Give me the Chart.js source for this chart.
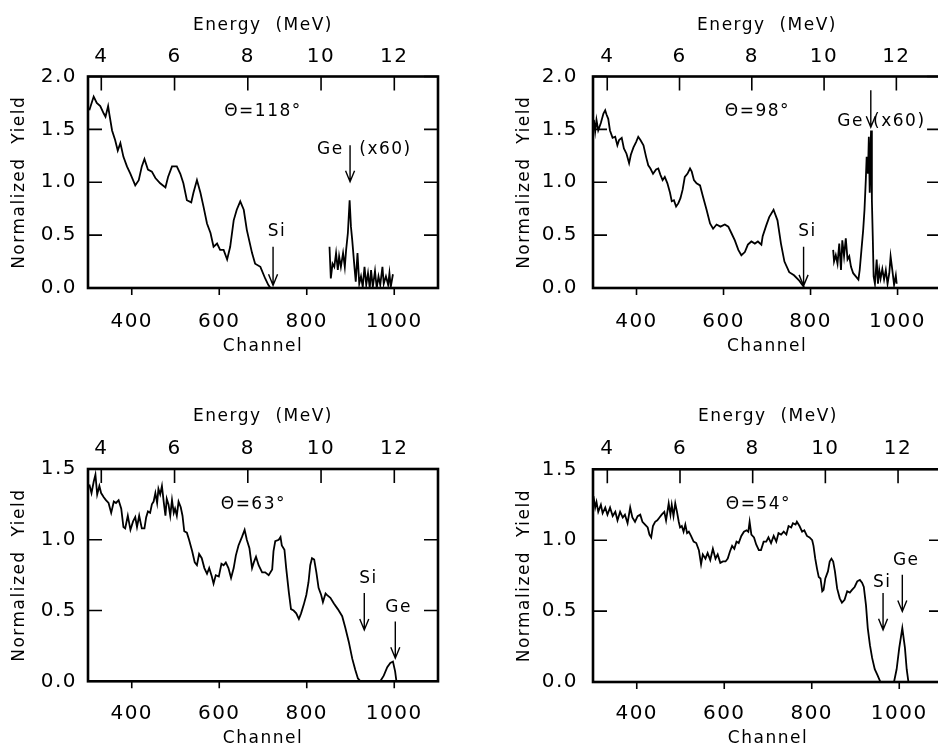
<!DOCTYPE html>
<html>
<head>
<meta charset="utf-8">
<script src="https://cdn.jsdelivr.net/npm/chart.js@4.4.0/dist/chart.umd.min.js"></script>
<style>
html, body { margin: 0; padding: 0; background: #fff; width: 938px; height: 747px; overflow: hidden; }
canvas { position: absolute; }
</style>
</head>
<body>
<canvas id="c118" width="469" height="370" style="left:0;top:0"></canvas>
<canvas id="c98" width="480" height="370" style="left:469px;top:0"></canvas>
<canvas id="c63" width="469" height="380" style="left:0;top:380px"></canvas>
<canvas id="c54" width="480" height="380" style="left:469px;top:380px"></canvas>
<script>
// --- Tick labels ---
const channelTicks = [400, 600, 800, 1000];
const energyTicks = [4, 6, 8, 10, 12];
const yieldTicksTop = [0, 0.5, 1.0, 1.5, 2.0];
const yieldTicksBottom = [0, 0.5, 1.0, 1.5];

// --- Theta = 118 deg ---
const ch118 = [303,313,320,328,336,340,346,349,355,362,368,374,381,389,397,408,416,423,429,437,446,454,465,477,483,492,503,511,518,526,536,541,549,557,564,572,580,587,595,602,610,618,625,633,640,648,656,663,675,682,694,705,712,717];
const y118  = [1.68,1.81,1.75,1.72,1.65,1.62,1.72,1.64,1.49,1.40,1.30,1.37,1.24,1.15,1.08,0.97,1.02,1.15,1.22,1.12,1.10,1.04,0.99,0.95,1.05,1.15,1.15,1.08,0.99,0.83,0.81,0.90,1.02,0.90,0.77,0.61,0.52,0.39,0.42,0.36,0.36,0.27,0.39,0.64,0.74,0.82,0.74,0.55,0.33,0.23,0.20,0.09,0.03,0.0];
const geCh118 = [852,855,859,863,867,871,874,878,883,887,890,894,898,901,904,909,912,916,920,924,928,932,936,940,944,947,951,956,960,964,968,973,976,981,986,989,992,997];
const geY118  = [0.39,0.09,0.23,0.20,0.33,0.17,0.30,0.20,0.33,0.20,0.36,0.52,0.83,0.58,0.45,0.20,0.06,0.33,0.04,0.11,0.01,0.20,0.03,0.14,0.0,0.17,0.01,0.16,0.0,0.11,0.03,0.20,0.04,0.11,0.03,0.14,0.01,0.13];

// --- Theta = 98 deg ---
const ch98 = [302,305,308,312,318,324,328,331,335,339,345,351,356,360,366,371,377,383,387,393,399,404,409,416,422,427,432,438,445,450,455,460,465,471,477,481,486,491,496,501,506,511,517,523,527,532,538,546,553,561,569,576,584,593,603,611,618,626,634,641,649,656,664,672,679,687,690,698,705,715,724,732,740,751,762,774,783,786];
const y98  = [1.59,1.48,1.59,1.49,1.56,1.65,1.68,1.64,1.60,1.49,1.42,1.43,1.35,1.40,1.42,1.32,1.27,1.18,1.26,1.33,1.38,1.43,1.40,1.35,1.24,1.16,1.13,1.08,1.12,1.13,1.07,1.02,1.05,0.99,0.90,0.82,0.83,0.77,0.80,0.85,0.93,1.05,1.08,1.13,1.10,1.02,0.99,0.97,0.86,0.74,0.61,0.56,0.60,0.58,0.60,0.58,0.52,0.45,0.36,0.31,0.34,0.41,0.44,0.42,0.44,0.41,0.49,0.59,0.67,0.74,0.64,0.42,0.25,0.15,0.12,0.07,0.02,0.0];
const geCh98 = [852,854,858,862,866,870,873,877,881,885,889,893,898,904,910,913,917,921,924,927,929,932,934,936,939,941,943,945,948,952,955,958,961,965,969,973,977,981,984,988,992,996,998];
const geY98  = [0.36,0.25,0.31,0.23,0.42,0.17,0.45,0.30,0.47,0.27,0.30,0.20,0.14,0.11,0.08,0.17,0.36,0.55,0.74,1.02,1.24,1.08,1.43,0.90,1.49,0.83,0.49,0.11,0.04,0.27,0.04,0.17,0.09,0.18,0.08,0.17,0.04,0.14,0.30,0.17,0.03,0.12,0.04];

// --- Theta = 63 deg ---
const ch63 = [303,308,313,317,321,326,330,336,341,347,353,359,364,370,376,381,385,391,397,403,408,412,417,423,429,433,437,442,446,450,454,458,461,465,469,473,477,480,484,488,492,496,499,503,507,512,516,520,526,531,538,544,549,554,560,566,572,577,583,587,592,599,605,610,615,621,627,633,638,644,652,658,663,669,675,679,684,690,698,705,713,721,724,728,736,740,743,749,753,759,764,770,776,782,787,793,799,804,808,812,817,822,827,833,837,843,846,854,862,871,881,888,896,904,911,917,923,968,976,984,991,997,1002,1005];
const y63  = [1.39,1.33,1.41,1.46,1.32,1.38,1.33,1.30,1.28,1.26,1.19,1.27,1.26,1.28,1.22,1.09,1.08,1.17,1.07,1.13,1.16,1.09,1.17,1.08,1.08,1.16,1.20,1.19,1.25,1.27,1.33,1.26,1.36,1.32,1.38,1.27,1.17,1.29,1.25,1.17,1.28,1.19,1.22,1.17,1.27,1.23,1.17,1.06,1.05,1.00,0.92,0.84,0.82,0.90,0.87,0.80,0.76,0.80,0.74,0.69,0.75,0.74,0.83,0.82,0.84,0.80,0.73,0.80,0.89,0.96,1.02,1.07,1.00,0.94,0.80,0.84,0.88,0.82,0.77,0.77,0.75,0.79,0.92,0.99,1.00,1.02,0.96,0.93,0.80,0.63,0.51,0.50,0.48,0.44,0.48,0.54,0.61,0.70,0.82,0.87,0.86,0.77,0.66,0.61,0.56,0.62,0.61,0.59,0.55,0.51,0.46,0.38,0.28,0.16,0.08,0.02,0.0,0.0,0.04,0.10,0.13,0.14,0.07,0.0];

// --- Theta = 54 deg ---
const ch54 = [301,305,308,312,318,322,328,333,339,345,351,356,362,368,373,379,385,390,396,402,408,413,419,425,429,433,437,442,447,452,457,463,467,473,477,480,484,488,492,496,499,503,507,511,515,519,524,530,536,542,547,551,557,562,568,574,580,585,591,597,603,608,613,618,623,628,633,639,645,651,655,658,662,668,673,679,684,690,696,701,707,713,719,724,730,736,742,747,753,757,763,766,772,778,783,789,795,801,804,808,812,816,820,824,827,831,837,841,845,849,853,858,864,869,875,881,887,892,898,904,910,915,919,924,928,933,938,944,950,957,988,994,1000,1007,1013,1017,1021];
const y54  = [1.31,1.23,1.27,1.20,1.25,1.19,1.23,1.18,1.23,1.17,1.20,1.14,1.20,1.16,1.18,1.12,1.23,1.16,1.13,1.17,1.18,1.13,1.11,1.09,1.04,1.02,1.10,1.13,1.14,1.16,1.18,1.20,1.14,1.26,1.18,1.25,1.17,1.26,1.20,1.13,1.09,1.10,1.06,1.11,1.05,1.06,1.03,0.99,0.98,0.93,0.83,0.90,0.87,0.91,0.86,0.94,0.87,0.90,0.84,0.85,0.85,0.87,0.92,0.96,0.94,0.99,0.98,1.03,1.06,1.07,1.06,1.13,1.04,1.02,0.97,0.93,0.93,0.99,0.99,1.02,0.98,1.03,0.99,1.05,1.04,1.06,1.04,1.10,1.09,1.12,1.11,1.13,1.10,1.06,1.07,1.03,1.02,1.00,0.96,0.87,0.80,0.74,0.73,0.64,0.65,0.73,0.78,0.85,0.87,0.85,0.78,0.66,0.59,0.56,0.58,0.64,0.63,0.65,0.67,0.71,0.72,0.70,0.67,0.54,0.38,0.26,0.17,0.09,0.05,0.0,0.0,0.09,0.24,0.38,0.24,0.09,0.0];

// --- Helpers ---
function points(xs, ys) {
    return xs.map((x, i) => ({x: x, y: ys[i]}));
}

const textFont = { family: 'DejaVu Sans', size: 17 };
const tickFont = { family: 'DejaVu Sans', size: 20 };

// wider letter spacing like the plotter font of the original
const spacingPlugin = {
    id: 'spacing',
    beforeUpdate(chart) { chart.ctx.letterSpacing = '1.5px'; },
    beforeDraw(chart) { chart.ctx.letterSpacing = '1.5px'; }
};

// thick frame, ticks pointing inward (top, left, right) and outward (bottom)
const framePlugin = {
    id: 'panelFrame',
    afterDraw(chart) {
        const {ctx, chartArea: a, scales} = chart;
        ctx.save();
        ctx.strokeStyle = '#000';
        ctx.lineWidth = 2.6;
        ctx.strokeRect(a.left, a.top, a.right - a.left, a.bottom - a.top);
        ctx.lineWidth = 1.6;
        ctx.beginPath();
        scales.y.ticks.forEach(t => {
            const py = scales.y.getPixelForValue(t.value);
            ctx.moveTo(a.left, py); ctx.lineTo(a.left + 14, py);
            ctx.moveTo(a.right, py); ctx.lineTo(a.right - 14, py);
        });
        scales.xTop.ticks.forEach(t => {
            const px = scales.xTop.getPixelForValue(t.value);
            ctx.moveTo(px, a.top); ctx.lineTo(px, a.top + 14);
        });
        scales.x.ticks.forEach(t => {
            const px = scales.x.getPixelForValue(t.value);
            ctx.moveTo(px, a.bottom); ctx.lineTo(px, a.bottom + 7);
        });
        ctx.stroke();
        ctx.restore();
    }
};

// labels and arrows placed in data coordinates
function notesPlugin(notes) {
    return {
        id: 'notes',
        afterDraw(chart) {
            const {ctx, scales} = chart;
            const sx = scales.x, sy = scales.y;
            ctx.save();
            ctx.fillStyle = '#000';
            ctx.strokeStyle = '#000';
            ctx.font = '17px "DejaVu Sans"';
            ctx.textAlign = 'center';
            ctx.textBaseline = 'middle';
            notes.texts.forEach(n => ctx.fillText(n.text, sx.getPixelForValue(n.x), sy.getPixelForValue(n.y)));
            ctx.lineWidth = 1.4;
            notes.arrows.forEach(n => {
                const px = sx.getPixelForValue(n.x);
                const p1 = sy.getPixelForValue(n.from);
                const p2 = sy.getPixelForValue(n.to);
                ctx.beginPath();
                ctx.moveTo(px, p1); ctx.lineTo(px, p2);
                ctx.moveTo(px - 4.5, p2 - 11); ctx.lineTo(px, p2); ctx.lineTo(px + 4.5, p2 - 11);
                ctx.stroke();
            });
            ctx.restore();
        }
    };
}

function makePanel(id, series, cfg) {
    return new Chart(document.getElementById(id), {
        type: 'line',
        data: {
            datasets: series.map(s => ({
                data: s,
                borderColor: '#000',
                borderWidth: 1.8,
                pointRadius: 0,
                tension: 0,
                fill: false
            }))
        },
        options: {
            responsive: false,
            animation: false,
            events: [],
            layout: { padding: { left: 0, top: 0, right: cfg.padRight, bottom: 0 } },
            plugins: { legend: { display: false }, tooltip: { enabled: false } },
            scales: {
                x: {
                    type: 'linear', position: 'bottom', min: 300, max: 1100,
                    afterBuildTicks: s => { s.ticks = channelTicks.map(v => ({value: v})); },
                    afterFit: s => { s.height = cfg.bottomH; },
                    grid: { display: false, drawTicks: false },
                    border: { display: false },
                    ticks: { font: tickFont, color: '#000', padding: cfg.bottomTickPad, maxRotation: 0, autoSkip: false, callback: v => String(v) },
                    title: { display: true, text: 'Channel', font: textFont, color: '#000', padding: { top: 0, bottom: cfg.chanPad } }
                },
                xTop: {
                    type: 'linear', position: 'top', min: cfg.eMin, max: cfg.eMax,
                    afterBuildTicks: s => { s.ticks = energyTicks.map(v => ({value: v})); },
                    afterFit: s => { s.height = cfg.topH; },
                    grid: { display: false, drawTicks: false },
                    border: { display: false },
                    ticks: { font: tickFont, color: '#000', padding: cfg.topTickPad, maxRotation: 0, autoSkip: false, callback: v => String(v) },
                    title: { display: true, text: 'Energy  (MeV)', font: textFont, color: '#000', padding: { top: cfg.energyPad, bottom: 0 } }
                },
                y: {
                    type: 'linear', position: 'left', min: 0, max: cfg.yMax,
                    afterBuildTicks: s => { s.ticks = cfg.yTicks.map(v => ({value: v})); },
                    afterFit: s => { s.width = cfg.leftW; },
                    grid: { display: false, drawTicks: false },
                    border: { display: false },
                    ticks: { font: tickFont, color: '#000', padding: cfg.yTickPad, autoSkip: false, callback: v => v.toFixed(1) },
                    title: { display: true, text: 'Normalized  Yield', font: textFont, color: '#000', padding: { top: cfg.yieldPad, bottom: 0 } }
                }
            }
        },
        plugins: [spacingPlugin, framePlugin, notesPlugin(cfg.notes)]
    });
}

// --- Panels ---
makePanel('c118', [points(ch118, y118), points(geCh118, geY118)], {
    leftW: 88, topH: 76.5, bottomH: 82, padRight: 31, eMin: 3.637, eMax: 13.193, yMax: 2, yTicks: yieldTicksTop,
    yTickPad: 11, yieldPad: 9, energyPad: 15, topTickPad: 8, bottomTickPad: 22, chanPad: 13,
    notes: {
        texts: [{text: 'Θ=118°', x: 700, y: 1.665}, {text: 'Si', x: 732, y: 0.53}, {text: 'Ge', x: 854, y: 1.31}, {text: '(x60)', x: 980, y: 1.31}],
        arrows: [{x: 723, from: 0.39, to: 0.025}, {x: 899, from: 1.35, to: 1.005}]
    }
});

makePanel('c98', [points(ch98, y98), points(geCh98, geY98)], {
    leftW: 124, topH: 76.5, bottomH: 82, padRight: 6, eMin: 3.606, eMax: 13.237, yMax: 2, yTicks: yieldTicksTop,
    yTickPad: 15, yieldPad: 45.5, energyPad: 15, topTickPad: 8, bottomTickPad: 22, chanPad: 13,
    notes: {
        texts: [{text: 'Θ=98°', x: 678, y: 1.667}, {text: 'Si', x: 793, y: 0.53}, {text: 'Ge', x: 892, y: 1.573}, {text: '(x60)', x: 1004, y: 1.573}],
        arrows: [{x: 784, from: 0.39, to: 0.02}, {x: 938.5, from: 1.87, to: 1.52}]
    }
});

makePanel('c63', [points(ch63, y63)], {
    leftW: 88, topH: 89, bottomH: 78.7, padRight: 31, eMin: 3.637, eMax: 13.193, yMax: 1.5, yTicks: yieldTicksBottom,
    yTickPad: 11, yieldPad: 9, energyPad: 26.5, topTickPad: 8.7, bottomTickPad: 20, chanPad: 11.5,
    notes: {
        texts: [{text: 'Θ=63°', x: 678, y: 1.248}, {text: 'Si', x: 941, y: 0.729}, {text: 'Ge', x: 1010, y: 0.524}],
        arrows: [{x: 931.5, from: 0.623, to: 0.363}, {x: 1002.4, from: 0.422, to: 0.163}]
    }
});

makePanel('c54', [points(ch54, y54)], {
    leftW: 124, topH: 89.3, bottomH: 78, padRight: 6, eMin: 3.606, eMax: 13.237, yMax: 1.5, yTicks: yieldTicksBottom,
    yTickPad: 15, yieldPad: 45.5, energyPad: 26.5, topTickPad: 8.7, bottomTickPad: 20, chanPad: 11.5,
    notes: {
        texts: [{text: 'Θ=54°', x: 678, y: 1.253}, {text: 'Si', x: 961, y: 0.699}, {text: 'Ge', x: 1016, y: 0.858}],
        arrows: [{x: 963, from: 0.628, to: 0.368}, {x: 1007, from: 0.757, to: 0.497}]
    }
});
</script>
</body>
</html>
